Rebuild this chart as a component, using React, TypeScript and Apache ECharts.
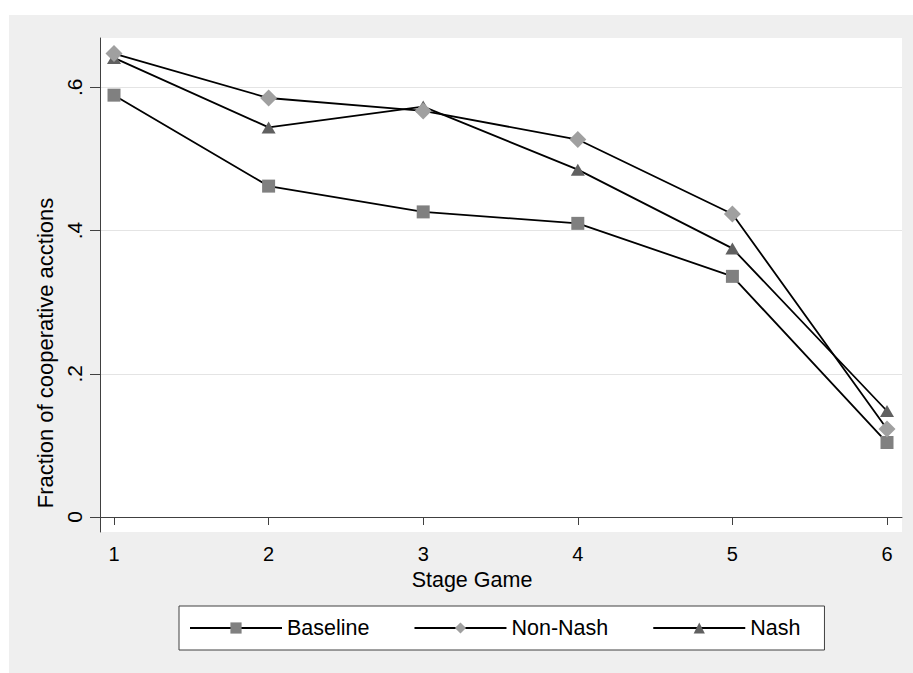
import React, { useEffect, useRef } from "react";
import * as echarts from "echarts";

const stages = [1, 2, 3, 4, 5, 6];
const baseline = [0.589, 0.462, 0.426, 0.41, 0.336, 0.104];
const nonNash = [0.647, 0.585, 0.567, 0.527, 0.423, 0.123];
const nash = [0.641, 0.544, 0.573, 0.485, 0.375, 0.148];
const yTicks = [0, 0.2, 0.4, 0.6];
const seriesNames = ["Baseline", "Non-Nash", "Nash"];
const xTitle = "Stage Game";
const yTitle = "Fraction of cooperative acctions";

const FONT = "'Liberation Sans', Arial, Helvetica, sans-serif";

export default function App() {
  const ref = useRef<HTMLDivElement>(null);
  useEffect(() => {
    if (!ref.current) return;
    const chart = echarts.init(ref.current, null, { renderer: "svg" });
    const mk = (vals: number[]) => stages.map((s, i) => [s, vals[i]]);
    const lineStyle = { color: "#000", width: 1.8 };
    chart.setOption({
      animation: false,
      backgroundColor: "#efefef",
      grid: {
        left: 91,
        top: 23,
        right: 11,
        bottom: 141,
        show: true,
        backgroundColor: "#ffffff",
        borderWidth: 0,
      },
      xAxis: {
        type: "value",
        min: 0.9094,
        max: 6.097,
        axisLine: { show: true, lineStyle: { color: "#404040", width: 1 } },
        axisTick: { show: true, length: 8, customValues: stages, lineStyle: { color: "#404040" } },
        axisLabel: {
          customValues: stages,
          margin: 12,
          fontSize: 20,
          color: "#000",
          fontFamily: FONT,
        },
        splitLine: { show: false },
      },
      yAxis: {
        type: "value",
        min: -0.02094,
        max: 0.6688,
        axisLine: { show: true, lineStyle: { color: "#404040", width: 1 } },
        axisTick: { show: true, length: 10, customValues: yTicks, lineStyle: { color: "#404040" } },
        axisLabel: {
          customValues: yTicks,
          rotate: 90,
          margin: 15,
          fontSize: 21,
          color: "#000",
          fontFamily: FONT,
          formatter: (v: number) => (Math.abs(v) < 1e-9 ? "0" : v.toFixed(1).replace(/^0/, "")),
        },
        splitLine: { show: true, lineStyle: { color: "#e4e4e4", width: 1 } },
      },
      legend: {
        data: seriesNames,
        left: 170,
        top: 591,
        orient: "horizontal",
        padding: [11, 24, 11, 10],
        backgroundColor: "#ffffff",
        borderColor: "#404040",
        borderWidth: 1,
        borderRadius: 0,
        itemWidth: 92,
        itemHeight: 14,
        itemGap: 44,
        textStyle: { fontSize: 21.5, color: "#000", fontFamily: FONT },
      },
      graphic: [
        {
          type: "text",
          x: 36,
          y: 338,
          rotation: Math.PI / 2,
          style: {
            text: yTitle,
            fontSize: 22,
            fontFamily: FONT,
            fill: "#000",
            textAlign: "center",
            textVerticalAlign: "middle",
            align: "center",
            verticalAlign: "middle",
          },
        },
        {
          type: "text",
          x: 463,
          y: 565,
          style: {
            text: xTitle,
            fontSize: 21.5,
            fontFamily: FONT,
            fill: "#000",
            textAlign: "center",
            textVerticalAlign: "middle",
            align: "center",
            verticalAlign: "middle",
          },
        },
      ],
      series: [
        {
          name: seriesNames[0],
          type: "line",
          z: 2,
          data: mk(baseline),
          symbol: "rect",
          symbolSize: 13,
          lineStyle,
          itemStyle: { color: "#808080" },
        },
        {
          name: seriesNames[2],
          type: "line",
          z: 3,
          data: mk(nash),
          symbol: "triangle",
          symbolSize: [14, 12],
          lineStyle,
          itemStyle: { color: "#606060" },
        },
        {
          name: seriesNames[1],
          type: "line",
          z: 4,
          data: mk(nonNash),
          symbol: "diamond",
          symbolSize: [17, 17],
          lineStyle,
          itemStyle: { color: "#a0a0a0" },
        },
      ],
    });
    return () => chart.dispose();
  }, []);
  return (
    <div style={{ position: "fixed", left: 0, top: 0, width: 913, height: 673, background: "#fff" }}>
      <div ref={ref} style={{ position: "absolute", left: 9, top: 15, width: 904, height: 658 }} />
    </div>
  );
}
